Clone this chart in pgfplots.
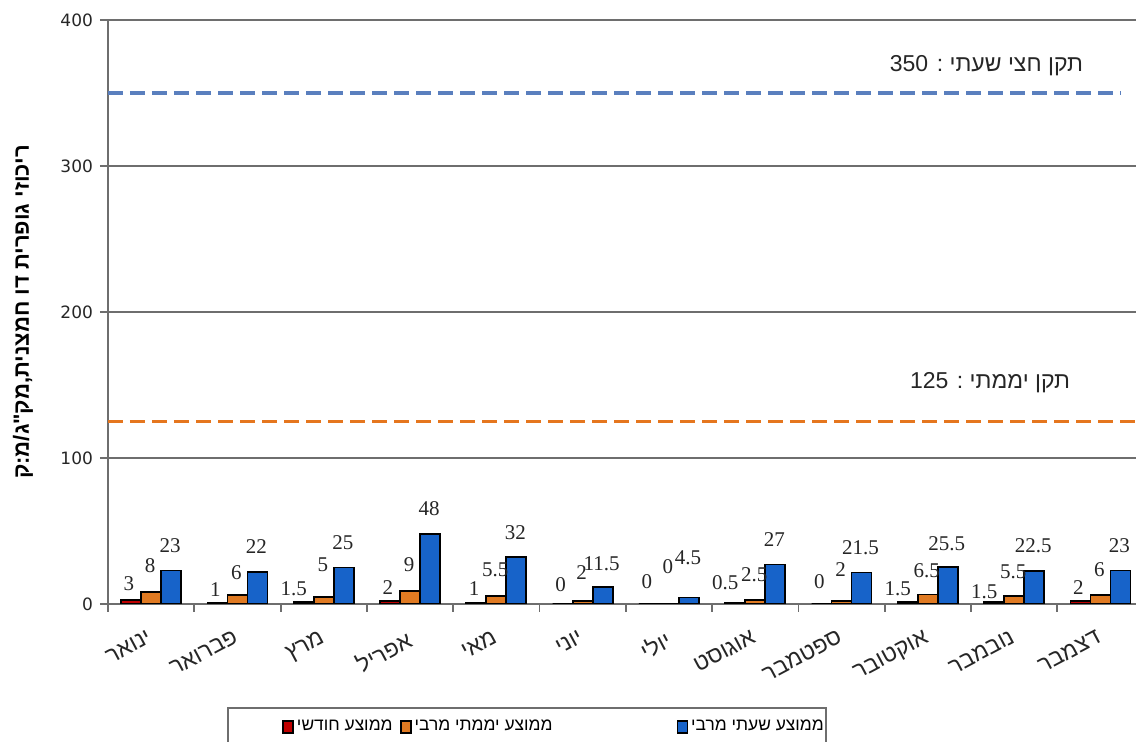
\documentclass[border=0pt]{standalone}
\usepackage{pgfplots}
\pgfplotsset{compat=1.18}
\usepackage{pgfplotstable}
\usepackage{fontspec}
\setmainfont{Liberation Sans}
\newfontfamily\hebfont[Script=Hebrew]{Liberation Sans}
\newfontfamily\numfont{Liberation Serif}
\newfontfamily\tickfont{DejaVu Sans}
\TeXXeTstate=1
\newcommand\heb[1]{{\hebfont\beginR #1\endR}}

\definecolor{redbar}{HTML}{C00000}
\definecolor{orangebar}{HTML}{E07A22}
\definecolor{bluebar}{HTML}{1763C9}
\definecolor{stdblue}{HTML}{5A7FBE}
\definecolor{stdorange}{HTML}{E5761E}
\definecolor{axisgray}{HTML}{6E6E6E}

% monthly SO2 values: monthly mean, max daily mean, max half-hour mean
% rdy/ody/bdy: lift of each value label above its bar (pt)
\pgfplotstableread{
x red orange blue rdy ody bdy
0 3 8 23 4 9.5 8.5
1 1 6 22 2.5 7.5 8.5
2 1.5 5 25 2.5 12 8.5
3 2 9 48 3 9 8.5
4 1 5.5 32 3 9 8.5
5 0 2 11.5 5.5 10.5 7.5
6 0 0 4.5 7 14.5 16
7 0.5 2.5 27 6.5 9 8.5
8 0 2 21.5 7 12 8.5
9 1.5 6.5 25.5 2.5 8 7.5
10 1.5 5.5 22.5 1 8 8.5
11 2 6 23 3 9 8.5
}\monthly

\pgfplotstableread{
x y
-0.5 350
11.23 350
}\halfhour

\pgfplotstableread{
x y
-0.5 125
11.5 125
}\daily

\begin{document}
\begin{tikzpicture}
\useasboundingbox (0,0) rectangle (568pt,371pt);
\begin{axis}[
  at={(54pt,69pt)}, anchor=south west,
  scale only axis, width=517.8pt, height=292pt,
  xmin=-0.5, xmax=11.5, ymin=0, ymax=400,
  ytick={0,100,200,300,400},
  xtick={0,...,11},
  minor xtick={-0.5,0.5,...,11.5},
  xticklabels={\heb{ינואר},\heb{פברואר},\heb{מרץ},\heb{אפריל},\heb{מאי},\heb{יוני},\heb{יולי},\heb{אוגוסט},\heb{ספטמבר},\heb{אוקטובר},\heb{נובמבר},\heb{דצמבר}},
  axis x line*=bottom, axis y line*=left,
  axis line style={axisgray, line width=0.9pt},
  ymajorgrids, grid style={axisgray, line width=0.8pt},
  tick align=outside,
  major tick length=4pt, minor tick length=4pt,
  major x tick style={draw=none},
  minor x tick style={axisgray, line width=0.9pt},
  major y tick style={axisgray, line width=0.9pt},
  /pgf/number format/assume math mode=true,
  yticklabel style={font=\fontsize{8.5}{10}\tickfont, text=black!85},
  xticklabel style={font=\fontsize{11.5}{13}\hebfont, text=black!85, xshift=-1pt, yshift=-4pt, rotate=28, anchor=north east},
  ylabel={{\hebfont\bfseries\beginR ריכוזי גופרית דו חמצנית,מק"ג/מ:ק\endR}},
  ylabel style={at={(axis description cs:-0.082,0.5)}, anchor=center, font=\fontsize{11}{13}\hebfont\bfseries},
  every node near coord/.append style={font=\fontsize{10.5}{12}\numfont, text=black!85, inner sep=0pt, anchor=south},
  legend columns=3,
  legend style={draw=none, fill=none, at={(0.168,-0.2106)}, anchor=west, inner xsep=0pt,
    nodes={inner sep=1.5pt}, font=\fontsize{8.7}{11}\hebfont},
  every axis plot/.append style={line width=0.9pt},
]
\addplot[ybar, bar width=10pt, bar shift=-10pt, draw=black, fill=redbar,
  legend image code/.code={\draw[fill=redbar, draw=black, line width=0.8pt] (0pt,-3pt) rectangle (5pt,3pt);}]
  table[x=x, y=red] {\monthly};
\addlegendentry{\makebox[50pt][l]{\heb{ממוצע חודשי}}}
\addplot[ybar, bar width=10pt, bar shift=0pt, draw=black, fill=orangebar,
  legend image code/.code={\draw[fill=orangebar, draw=black, line width=0.8pt] (0pt,-3pt) rectangle (5pt,3pt);}]
  table[x=x, y=orange] {\monthly};
\addlegendentry{\makebox[129.5pt][l]{\heb{ממוצע יממתי מרבי}}}
\addplot[ybar, bar width=10pt, bar shift=10pt, draw=black, fill=bluebar,
  legend image code/.code={\draw[fill=bluebar, draw=black, line width=0.8pt] (0pt,-3pt) rectangle (5pt,3pt);}]
  table[x=x, y=blue] {\monthly};
\addlegendentry{\heb{ממוצע שעתי מרבי}}

% value labels: text is the bar value, set a little above the bar top
\addplot[draw=none, forget plot, point meta=explicit, nodes near coords,
  every node near coord/.append style={anchor=south east, xshift=-8pt}]
  table[x=x, y expr=\thisrow{red}+1.37*\thisrow{rdy}, meta=red] {\monthly};
\addplot[draw=none, forget plot, point meta=explicit, nodes near coords,
  every node near coord/.append style={xshift=-0.5pt}]
  table[x=x, y expr=\thisrow{orange}+1.37*\thisrow{ody}, meta=orange] {\monthly};
\addplot[draw=none, forget plot, point meta=explicit, nodes near coords,
  every node near coord/.append style={xshift=9.5pt}]
  table[x=x, y expr=\thisrow{blue}+1.37*\thisrow{bdy}, meta=blue] {\monthly};

% standard limits
\addplot[sharp plot, no marks, forget plot, stdblue, line width=1.7pt, dash pattern=on 7.5pt off 3.5pt]
  table[x=x, y=y] {\halfhour};
\addplot[sharp plot, no marks, forget plot, stdorange, line width=1.7pt, dash pattern=on 7.5pt off 3.5pt]
  table[x=x, y=y] {\daily};

\node[anchor=east, font=\fontsize{11.5}{13}\hebfont, text=black!85] at (axis cs:10.88,368.5)
  {\heb{תקן חצי שעתי : \beginL 350\endL}};
\node[anchor=east, font=\fontsize{11.5}{13}\hebfont, text=black!85] at (axis cs:10.73,151.4)
  {\heb{תקן יממתי : \beginL 125\endL}};
\end{axis}
% legend frame
\draw[axisgray, line width=0.8pt] (114pt,17pt) rectangle (413pt,-10pt);
\end{tikzpicture}
\end{document}
